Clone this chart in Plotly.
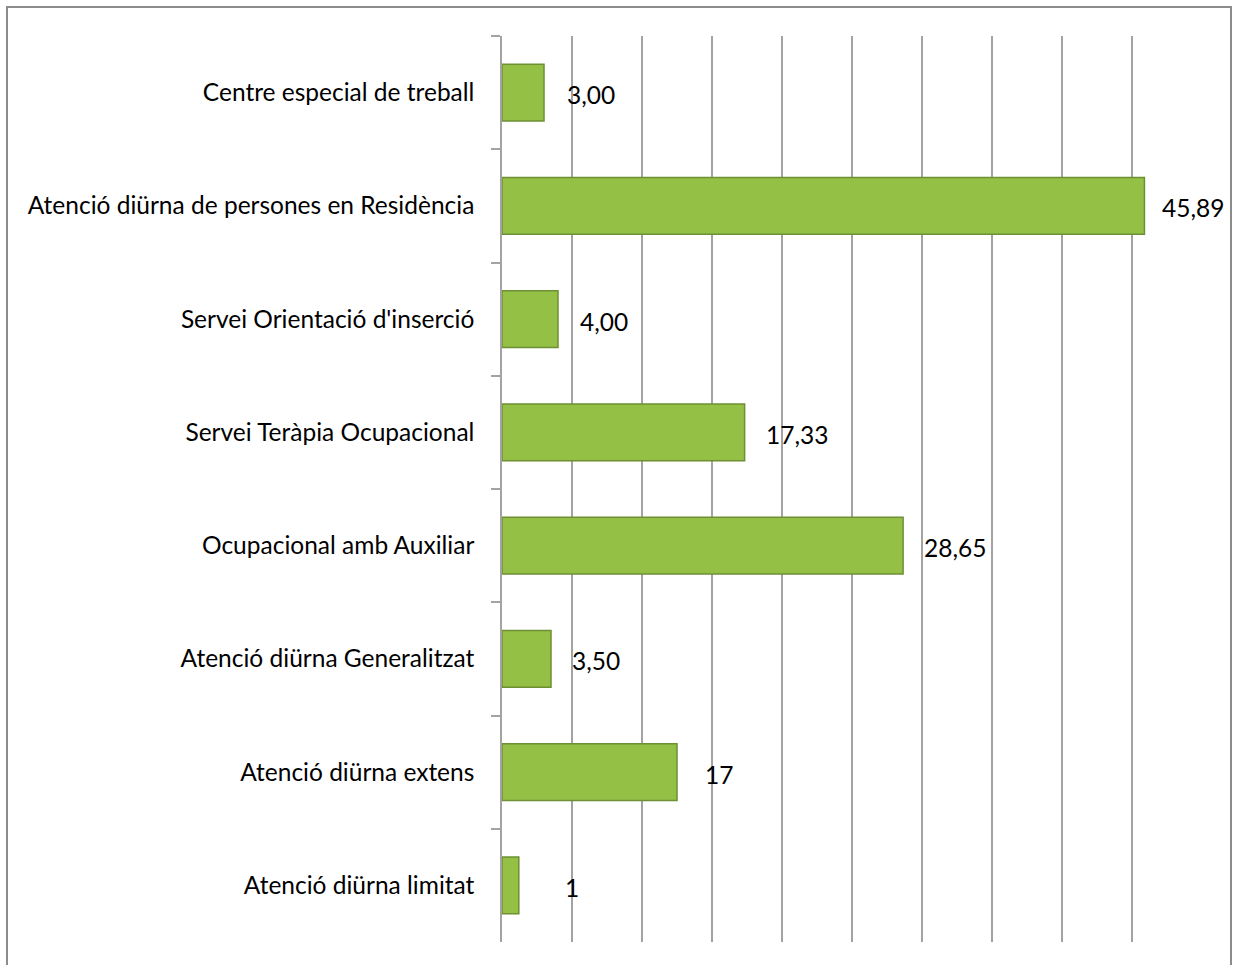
import plotly.graph_objects as go

# Data (top to bottom)
categories = [
    "Centre especial de treball",
    "Atenció diürna de persones en Residència",
    "Servei Orientació d'inserció",
    "Servei Teràpia Ocupacional",
    "Ocupacional amb Auxiliar",
    "Atenció diürna Generalitzat",
    "Atenció diürna extens",
    "Atenció diürna limitat",
]
values = [3.00, 45.89, 4.00, 17.33, 28.65, 3.50, 12.5, 1.2]
value_labels = ["3,00", "45,89", "4,00", "17,33", "28,65", "3,50", "17", "1"]

# label offsets in pixels (style)
label_shift = [21, 16, 20, 19, 19, 19, 26, 44]

FONT = "Lato"
FSIZE = 24.5
GRID = "#a3a3a3"

fig = go.Figure()
fig.add_trace(go.Bar(
    x=values,
    y=categories,
    orientation="h",
    width=0.5,
    marker=dict(color="#95c046", line=dict(color="#6e8f33", width=1.5)),
    hoverinfo="x+y",
))

annotations = []
for c, v, t, s in zip(categories, values, value_labels, label_shift):
    annotations.append(dict(
        x=v, y=c, xref="x", yref="y", text=t, showarrow=False,
        xanchor="left", yanchor="middle", xshift=s, yshift=-2,
        font=dict(family=FONT, size=FSIZE, color="#000000"),
    ))

# outer border
pl, pr, pt, pb = 502, 1202, 36, 942
pw, ph = pr - pl, pb - pt
x0 = (7 - pl) / pw
x1 = (1231 - pl) / pw
y1 = 1 + (pt - 7) / ph
y0 = -(985 - pb) / ph

fig.update_layout(
    width=1237, height=965,
    margin=dict(l=pl, r=1237 - pr, t=pt, b=965 - pb, pad=0),
    paper_bgcolor="white", plot_bgcolor="white",
    showlegend=False,
    bargap=0.5,
    annotations=annotations,
    shapes=[dict(type="rect", xref="paper", yref="paper",
                 x0=x0, x1=x1, y0=y0, y1=y1,
                 line=dict(color="#8c8c8c", width=2), layer="below")],
    xaxis=dict(
        range=[0, 50], dtick=5, showgrid=True, gridcolor=GRID, gridwidth=1.5,
        showticklabels=False, zeroline=False, showline=False, ticks="",
        fixedrange=True,
    ),
    yaxis=dict(
        autorange="reversed", showgrid=False, showline=True,
        linecolor=GRID, linewidth=1.5,
        ticks="outside", ticklen=9, tickcolor=GRID, tickwidth=1.5,
        tickson="boundaries", ticklabelstandoff=21,
        tickfont=dict(family=FONT, size=FSIZE, color="#000000"),
        fixedrange=True,
    ),
)

fig.write_html("out.html", config={"displayModeBar": False},
               post_script="document.body.style.margin='0';")
